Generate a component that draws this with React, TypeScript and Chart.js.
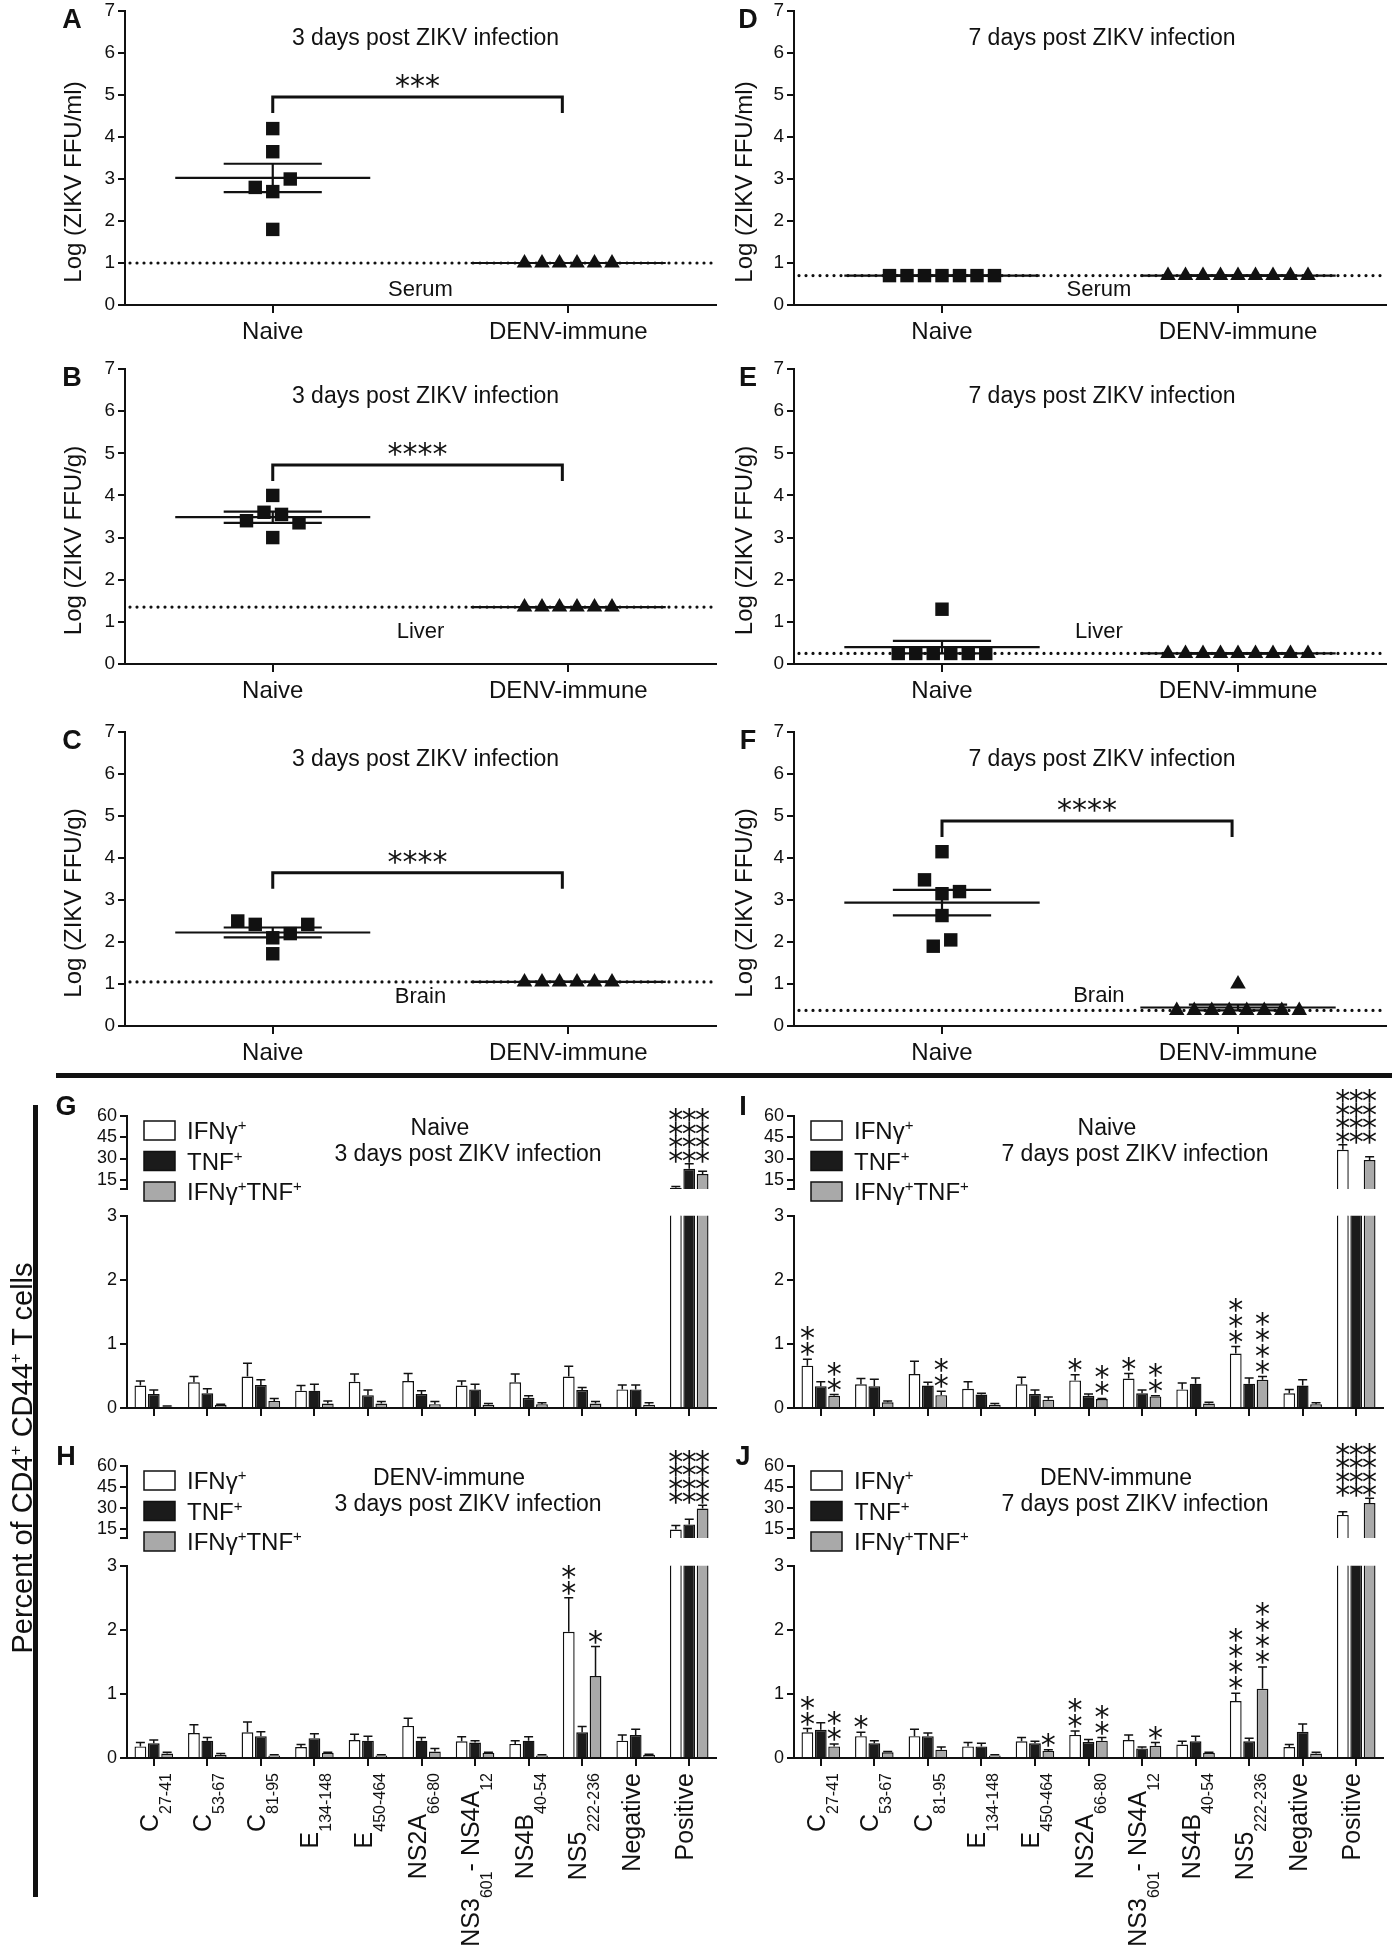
import React, { useEffect, useRef } from "react";
import { Chart, registerables } from "chart.js";

Chart.register(...registerables);

const SANS = '"Liberation Sans", Arial, Helvetica, sans-serif';
const STAR_FONT = '"DejaVu Sans", "Liberation Sans", sans-serif';
const INK = "#111111";
const BLACK_FILL = "#1b1b1b";
const GRAY_FILL = "#a9a9a9";

/* ================= Panels A–F : log ZIKV titres ================= */
const groupLabels = ["Naive", "DENV-immune"];
const logTicks = [0, 1, 2, 3, 4, 5, 6, 7];

const serumDay3Naive = [4.2, 3.65, 2.8, 2.7, 3.0, 1.8];
const serumDay3Denv = [1.0, 1.0, 1.0, 1.0, 1.0, 1.0];
const liverDay3Naive = [4.0, 3.4, 3.6, 3.55, 3.35, 3.0];
const liverDay3Denv = [1.35, 1.35, 1.35, 1.35, 1.35, 1.35];
const brainDay3Naive = [2.5, 2.42, 2.1, 2.2, 2.42, 1.72];
const brainDay3Denv = [1.05, 1.05, 1.05, 1.05, 1.05, 1.05];
const serumDay7Naive = [0.7, 0.7, 0.7, 0.7, 0.7, 0.7, 0.7];
const serumDay7Denv = [0.7, 0.7, 0.7, 0.7, 0.7, 0.7, 0.7, 0.7, 0.7];
const liverDay7Naive = [1.3, 0.25, 0.25, 0.25, 0.25, 0.25, 0.25];
const liverDay7Denv = [0.25, 0.25, 0.25, 0.25, 0.25, 0.25, 0.25, 0.25, 0.25];
const brainDay7Naive = [4.15, 3.48, 3.15, 3.2, 2.63, 1.9, 2.05];
const brainDay7Denv = [1.0, 0.37, 0.37, 0.37, 0.37, 0.37, 0.37, 0.37, 0.37];

const detectionLimits = [1.0, 1.35, 1.05, 0.7, 0.25, 0.37];
const significance = ["***", "****", "****", "", "", "****"];
const bracketLevels = [4.95, 4.72, 3.65, 0, 0, 4.88];
const tissueNames = ["Serum", "Liver", "Brain", "Serum", "Liver", "Brain"];
const tissueLabelLevels = [0.36, 0.76, 0.69, 0.36, 0.76, 0.71];
const scatterTitles = [
  "3 days post ZIKV infection",
  "3 days post ZIKV infection",
  "3 days post ZIKV infection",
  "7 days post ZIKV infection",
  "7 days post ZIKV infection",
  "7 days post ZIKV infection",
];
const scatterYTitles = [
  "Log (ZIKV FFU/ml)",
  "Log (ZIKV FFU/g)",
  "Log (ZIKV FFU/g)",
  "Log (ZIKV FFU/ml)",
  "Log (ZIKV FFU/g)",
  "Log (ZIKV FFU/g)",
];
const naiveSets = [serumDay3Naive, liverDay3Naive, brainDay3Naive, serumDay7Naive, liverDay7Naive, brainDay7Naive];
const denvSets = [serumDay3Denv, liverDay3Denv, brainDay3Denv, serumDay7Denv, liverDay7Denv, brainDay7Denv];

/* ================= Panels G–J : % of CD4+ CD44+ T cells ================= */
const peptideLabels = [
  "C_{27-41}",
  "C_{53-67}",
  "C_{81-95}",
  "E_{134-148}",
  "E_{450-464}",
  "NS2A_{66-80}",
  "NS3_{601}- NS4A_{12}",
  "NS4B_{40-54}",
  "NS5_{222-236}",
  "Negative",
  "Positive",
];
const legendLabels = ["IFNγ^{+}", "TNF^{+}", "IFNγ^{+}TNF^{+}"];
const upperTicks = [15, 30, 45, 60];
const lowerTicks = [0, 1, 2, 3];

// G: naive, day 3
const gIfn = [0.35, 0.4, 0.49, 0.27, 0.41, 0.42, 0.35, 0.4, 0.49, 0.29, 9.3];
const gIfnSem = [0.07, 0.09, 0.21, 0.08, 0.12, 0.12, 0.07, 0.13, 0.16, 0.07, 0.9];
const gTnf = [0.22, 0.23, 0.36, 0.27, 0.2, 0.22, 0.29, 0.16, 0.28, 0.29, 22.8];
const gTnfSem = [0.06, 0.07, 0.08, 0.1, 0.08, 0.05, 0.08, 0.03, 0.04, 0.07, 3.6];
const gDbl = [0.02, 0.05, 0.11, 0.07, 0.07, 0.06, 0.05, 0.06, 0.07, 0.05, 19.0];
const gDblSem = [0.01, 0.01, 0.04, 0.04, 0.03, 0.04, 0.02, 0.02, 0.03, 0.03, 2.0];
const gIfnStars = [0, 0, 0, 0, 0, 0, 0, 0, 0, 0, 4];
const gTnfStars = [0, 0, 0, 0, 0, 0, 0, 0, 0, 0, 4];
const gDblStars = [0, 0, 0, 0, 0, 0, 0, 0, 0, 0, 4];

// I: naive, day 7
const iIfn = [0.66, 0.37, 0.53, 0.3, 0.37, 0.43, 0.46, 0.29, 0.85, 0.23, 36.2];
const iIfnSem = [0.1, 0.09, 0.2, 0.11, 0.11, 0.09, 0.08, 0.1, 0.11, 0.06, 3.5];
const iTnf = [0.34, 0.34, 0.35, 0.21, 0.22, 0.19, 0.23, 0.38, 0.38, 0.35, 6.5];
const iTnfSem = [0.07, 0.11, 0.05, 0.02, 0.06, 0.03, 0.05, 0.09, 0.09, 0.09, 0.8];
const iDbl = [0.19, 0.09, 0.2, 0.05, 0.13, 0.14, 0.18, 0.07, 0.44, 0.06, 28.9];
const iDblSem = [0.02, 0.02, 0.06, 0.02, 0.04, 0.01, 0.01, 0.02, 0.05, 0.02, 2.3];
const iIfnStars = [2, 0, 0, 0, 0, 1, 1, 0, 3, 0, 4];
const iTnfStars = [0, 0, 0, 0, 0, 0, 0, 0, 0, 0, 4];
const iDblStars = [2, 0, 2, 0, 0, 2, 2, 0, 4, 0, 4];

// H: DENV-immune, day 3
const hIfn = [0.18, 0.39, 0.4, 0.17, 0.28, 0.5, 0.26, 0.22, 1.97, 0.27, 14.5];
const hIfnSem = [0.06, 0.13, 0.16, 0.04, 0.09, 0.12, 0.07, 0.05, 0.53, 0.09, 3.0];
const hTnf = [0.23, 0.27, 0.34, 0.31, 0.27, 0.27, 0.24, 0.27, 0.4, 0.36, 18.2];
const hTnfSem = [0.05, 0.05, 0.07, 0.07, 0.07, 0.05, 0.03, 0.06, 0.09, 0.09, 3.7];
const hDbl = [0.07, 0.05, 0.04, 0.08, 0.04, 0.1, 0.08, 0.04, 1.28, 0.05, 29.6];
const hDblSem = [0.02, 0.02, 0.01, 0.01, 0.01, 0.05, 0.01, 0.01, 0.46, 0.01, 2.4];
const hIfnStars = [0, 0, 0, 0, 0, 0, 0, 0, 2, 0, 4];
const hTnfStars = [0, 0, 0, 0, 0, 0, 0, 0, 0, 0, 4];
const hDblStars = [0, 0, 0, 0, 0, 0, 0, 0, 1, 0, 4];

// J: DENV-immune, day 7
const jIfn = [0.4, 0.34, 0.34, 0.18, 0.26, 0.36, 0.28, 0.21, 0.89, 0.17, 25.0];
const jIfnSem = [0.06, 0.06, 0.11, 0.06, 0.06, 0.06, 0.08, 0.05, 0.12, 0.04, 2.3];
const jTnf = [0.44, 0.23, 0.34, 0.18, 0.23, 0.25, 0.15, 0.26, 0.26, 0.41, 6.5];
const jTnfSem = [0.11, 0.04, 0.05, 0.05, 0.03, 0.04, 0.02, 0.08, 0.05, 0.12, 0.8];
const jDbl = [0.18, 0.09, 0.13, 0.04, 0.11, 0.27, 0.19, 0.08, 1.08, 0.07, 33.5];
const jDblSem = [0.04, 0.01, 0.04, 0.01, 0.02, 0.05, 0.05, 0.01, 0.34, 0.02, 3.5];
const jIfnStars = [2, 1, 0, 0, 0, 2, 0, 0, 4, 0, 4];
const jTnfStars = [0, 0, 0, 0, 0, 0, 0, 0, 0, 0, 4];
const jDblStars = [2, 0, 0, 0, 1, 2, 1, 0, 4, 0, 4];

/* ================= layout (positions, not data) ================= */
const SC_COLS = [
  { left: 125, right: 716, canvasX: 0, canvasW: 730, letterX: 72, titleDx: 5, yTitleGap: 51, tissueX: 0.5 },
  { left: 794, right: 1386, canvasX: 720, canvasW: 678, letterX: 748, titleDx: 12, yTitleGap: 49, tissueX: 0.53 },
];
const SC_ROWS = [
  { top: 10.7, bottom: 305 },
  { top: 369, bottom: 664 },
  { top: 732, bottom: 1026 },
];
const UPPER_MIN = 8.5;
const BAR_COLS = [
  { left: 127, right: 716, canvasX: 0, canvasW: 730, letterX: 66 },
  { left: 794, right: 1383, canvasX: 720, canvasW: 678, letterX: 743 },
];
const BAR_ROWS = [
  { upTop: 1116, upBottom: 1189, lowTop: 1214, lowBottom: 1408 },
  { upTop: 1466, upBottom: 1538, lowTop: 1564, lowBottom: 1758 },
];
const barPanels = [
  { letter: "G", line1: "Naive", line2: "3 days post ZIKV infection", col: 0, row: 0, labels: false,
    vals: [gIfn, gTnf, gDbl], sems: [gIfnSem, gTnfSem, gDblSem], stars: [gIfnStars, gTnfStars, gDblStars] },
  { letter: "I", line1: "Naive", line2: "7 days post ZIKV infection", col: 1, row: 0, labels: false,
    vals: [iIfn, iTnf, iDbl], sems: [iIfnSem, iTnfSem, iDblSem], stars: [iIfnStars, iTnfStars, iDblStars] },
  { letter: "H", line1: "DENV-immune", line2: "3 days post ZIKV infection", col: 0, row: 1, labels: true,
    vals: [hIfn, hTnf, hDbl], sems: [hIfnSem, hTnfSem, hDblSem], stars: [hIfnStars, hTnfStars, hDblStars] },
  { letter: "J", line1: "DENV-immune", line2: "7 days post ZIKV infection", col: 1, row: 1, labels: true,
    vals: [jIfn, jTnf, jDbl], sems: [jIfnSem, jTnfSem, jDblSem], stars: [jIfnStars, jTnfStars, jDblStars] },
];
const barFills = ["#ffffff", BLACK_FILL, GRAY_FILL];

/* ================= helpers ================= */
type Seg = { t: string; k: "n" | "sub" | "sup" };
function parseRich(s: string): Seg[] {
  const out: Seg[] = [];
  const re = /([_^])\{([^}]*)\}/g;
  let last = 0;
  let m: RegExpExecArray | null;
  while ((m = re.exec(s))) {
    if (m.index > last) out.push({ t: s.slice(last, m.index), k: "n" });
    out.push({ t: m[2], k: m[1] === "_" ? "sub" : "sup" });
    last = re.lastIndex;
  }
  if (last < s.length) out.push({ t: s.slice(last), k: "n" });
  return out;
}
function plain(s: string) {
  return parseRich(s).map((x) => x.t).join("");
}
function richWidth(ctx: CanvasRenderingContext2D, segs: Seg[], size: number, small: number) {
  let w = 0;
  for (const s of segs) {
    ctx.font = `${s.k === "n" ? size : small}px ${SANS}`;
    w += ctx.measureText(s.t).width;
  }
  return w;
}
function drawRich(ctx: CanvasRenderingContext2D, segs: Seg[], x: number, y: number, size: number, small: number, subDy: number, supDy: number) {
  let cx = x;
  ctx.textAlign = "left";
  ctx.textBaseline = "alphabetic";
  for (const s of segs) {
    ctx.font = `${s.k === "n" ? size : small}px ${SANS}`;
    const dy = s.k === "sub" ? subDy : s.k === "sup" ? -supDy : 0;
    ctx.fillText(s.t, cx, y + dy);
    cx += ctx.measureText(s.t).width;
  }
}
function drawStar(ctx: CanvasRenderingContext2D, x: number, y: number, size = 30) {
  ctx.font = `${size}px ${STAR_FONT}`;
  ctx.textAlign = "center";
  ctx.textBaseline = "alphabetic";
  ctx.fillStyle = INK;
  ctx.fillText("*", x, y + 0.57 * size);
}
function statsOf(vals: number[]) {
  const n = vals.length;
  const mean = vals.reduce((a, b) => a + b, 0) / n;
  const sd = Math.sqrt(vals.reduce((a, b) => a + (b - mean) * (b - mean), 0) / (n - 1));
  return { mean, sem: sd / Math.sqrt(n) };
}
// spreads points with (nearly) equal values side by side, like a dot plot
function swarm(vals: number[], pxPerUnit: number, markerPx: number) {
  const idx = vals.map((_, i) => i).sort((a, b) => vals[b] - vals[a]);
  const clusters: number[][] = [];
  let cur: number[] = [];
  for (const i of idx) {
    if (cur.length && (vals[cur[cur.length - 1]] - vals[i]) * pxPerUnit >= markerPx) {
      clusters.push(cur);
      cur = [];
    }
    cur.push(i);
  }
  if (cur.length) clusters.push(cur);
  const off = new Array(vals.length).fill(0);
  for (const c of clusters) {
    const s = [...c].sort((a, b) => a - b);
    s.forEach((i, k) => (off[i] = k - (s.length - 1) / 2));
  }
  return off;
}

const axisGrid = { drawOnChartArea: false, drawTicks: true, color: INK, lineWidth: 2 };
const axisBorder = { display: true, color: INK, width: 2 };

/* ================= scatter panels ================= */
function ScatterPanel({ idx }: { idx: number }) {
  const ref = useRef<HTMLCanvasElement>(null);
  const col = SC_COLS[idx < 3 ? 0 : 1];
  const row = SC_ROWS[idx % 3];
  const m = { l: col.left - col.canvasX, t: 40, r: col.canvasX + col.canvasW - col.right, b: 62 };
  const frame = { x: col.canvasX, y: row.top - m.t, w: col.canvasW, h: Math.round(m.t + (row.bottom - row.top) + m.b) };

  useEffect(() => {
    const naive = naiveSets[idx];
    const denv = denvSets[idx];
    const pxPerX = (col.right - col.left) / 2;
    const pxPerY = (row.bottom - row.top) / 7;
    const step = 17.5 / pxPerX;
    const offN = swarm(naive, pxPerY, 13);
    const offD = swarm(denv, pxPerY, 13);
    const letter = "ABCDEF"[idx];

    const decor = {
      id: "decor" + letter,
      beforeDatasetsDraw(chart: any) {
        const { ctx, chartArea: a, scales } = chart;
        const x = scales.x, y = scales.y;
        ctx.save();
        ctx.strokeStyle = INK;
        // detection limit (dotted)
        const ly = y.getPixelForValue(detectionLimits[idx]);
        ctx.lineWidth = 3.2;
        ctx.lineCap = "round";
        ctx.setLineDash([0, 7]);
        ctx.beginPath();
        ctx.moveTo(a.left + 5, ly);
        ctx.lineTo(a.right, ly);
        ctx.stroke();
        ctx.setLineDash([]);
        ctx.lineCap = "butt";
        // mean ± SEM
        ctx.lineWidth = 2.2;
        const groups: [number[], number][] = [[naive, 0], [denv, 1]];
        for (const [vals, cx] of groups) {
          const { mean, sem } = statsOf(vals);
          const h = (x0: number, x1: number, v: number) => {
            ctx.beginPath();
            ctx.moveTo(x.getPixelForValue(x0), y.getPixelForValue(v));
            ctx.lineTo(x.getPixelForValue(x1), y.getPixelForValue(v));
            ctx.stroke();
          };
          h(cx - 0.33, cx + 0.33, mean);
          h(cx - 0.166, cx + 0.166, mean + sem);
          h(cx - 0.166, cx + 0.166, mean - sem);
          ctx.beginPath();
          ctx.moveTo(x.getPixelForValue(cx), y.getPixelForValue(mean - sem));
          ctx.lineTo(x.getPixelForValue(cx), y.getPixelForValue(mean + sem));
          ctx.stroke();
        }
        ctx.restore();
      },
      afterDatasetsDraw(chart: any) {
        const { ctx, chartArea: a, scales } = chart;
        const x = scales.x, y = scales.y;
        ctx.save();
        ctx.fillStyle = INK;
        ctx.strokeStyle = INK;
        // significance bracket
        if (significance[idx]) {
          const by = y.getPixelForValue(bracketLevels[idx]);
          const x0 = x.getPixelForValue(0), x1 = x.getPixelForValue(0.98);
          ctx.lineWidth = 3;
          ctx.beginPath();
          ctx.moveTo(x0, by + 16);
          ctx.lineTo(x0, by);
          ctx.lineTo(x1, by);
          ctx.lineTo(x1, by + 16);
          ctx.stroke();
          ctx.font = `30px ${STAR_FONT}`;
          ctx.textAlign = "center";
          ctx.textBaseline = "alphabetic";
          ctx.fillText(significance[idx], x.getPixelForValue(0.49), by - 18 + 0.57 * 30);
        }
        // tissue name
        ctx.font = `22px ${SANS}`;
        ctx.textAlign = "center";
        ctx.textBaseline = "middle";
        ctx.fillText(tissueNames[idx], x.getPixelForValue(col.tissueX), y.getPixelForValue(tissueLabelLevels[idx]));
        // title
        ctx.font = `23px ${SANS}`;
        ctx.fillText(scatterTitles[idx], (a.left + a.right) / 2 + col.titleDx, a.top + 28);
        // panel letter
        ctx.font = `bold 27px ${SANS}`;
        ctx.fillText(letter, col.letterX - col.canvasX, a.top + 10);
        // y title
        ctx.save();
        ctx.translate(a.left - col.yTitleGap, (a.top + a.bottom) / 2 + 24);
        ctx.rotate(-Math.PI / 2);
        ctx.font = `24px ${SANS}`;
        ctx.fillText(scatterYTitles[idx], 0, 0);
        ctx.restore();
        ctx.restore();
      },
    };

    const chart = new Chart(ref.current!, {
      type: "scatter",
      data: {
        datasets: [
          {
            data: naive.map((v, i) => ({ x: 0 + offN[i] * step, y: v })),
            pointStyle: "rect",
            pointRadius: 9.5,
            pointHoverRadius: 9.5,
            backgroundColor: INK,
            borderColor: INK,
            borderWidth: 0,
          },
          {
            data: denv.map((v, i) => ({ x: 1 + offD[i] * step, y: v })),
            pointStyle: "triangle",
            pointRadius: 9,
            pointHoverRadius: 9,
            backgroundColor: INK,
            borderColor: INK,
            borderWidth: 0,
          },
        ],
      },
      options: {
        animation: false,
        responsive: false,
        maintainAspectRatio: false,
        devicePixelRatio: 1,
        events: [],
        layout: { padding: { top: m.t, right: m.r, left: 0, bottom: 0 } },
        plugins: { legend: { display: false }, tooltip: { enabled: false }, title: { display: false } },
        scales: {
          x: {
            type: "linear",
            min: -0.5,
            max: 1.5,
            afterBuildTicks: (s: any) => {
              s.ticks = [{ value: 0 }, { value: 1 }];
            },
            afterFit: (s: any) => {
              s.height = m.b;
            },
            ticks: {
              callback: (v: any) => groupLabels[v] ?? "",
              font: { family: SANS, size: 24 },
              color: INK,
              padding: 5,
              maxRotation: 0,
              autoSkip: false,
            },
            grid: { ...axisGrid, tickLength: 8 },
            border: axisBorder,
          },
          y: {
            min: 0,
            max: 7,
            afterBuildTicks: (s: any) => {
              s.ticks = logTicks.map((v) => ({ value: v }));
            },
            afterFit: (s: any) => {
              s.width = m.l;
            },
            ticks: { font: { family: SANS, size: 19 }, color: INK, padding: 3, autoSkip: false },
            grid: { ...axisGrid, tickLength: 7 },
            border: axisBorder,
          },
        },
      } as any,
      plugins: [decor],
    });
    return () => chart.destroy();
  }, []);

  return (
    <canvas
      ref={ref}
      width={frame.w}
      height={frame.h}
      style={{ position: "absolute", left: frame.x, top: frame.y, width: frame.w, height: frame.h }}
    />
  );
}

/* ================= bar panels ================= */
function BarPart({ p, part }: { p: (typeof barPanels)[number]; part: "upper" | "lower" }) {
  const ref = useRef<HTMLCanvasElement>(null);
  const col = BAR_COLS[p.col];
  const row = BAR_ROWS[p.row];
  const isUpper = part === "upper";
  const top = isUpper ? row.upTop : row.lowTop;
  const bottom = isUpper ? row.upBottom : row.lowBottom;
  const m = {
    l: col.left - col.canvasX,
    t: isUpper ? 45 : 12,
    r: col.canvasX + col.canvasW - col.right,
    b: isUpper ? 40 : p.labels ? 200 : 30,
  };
  const frame = { x: col.canvasX, y: top - m.t, w: col.canvasW, h: Math.round(m.t + (bottom - top) + m.b) };

  useEffect(() => {
    const yMin = isUpper ? UPPER_MIN : 0;
    const yMax = isUpper ? 60 : 3;
    const tickVals = isUpper ? [UPPER_MIN, ...upperTicks] : lowerTicks;

    const decor = {
      id: "bars" + p.letter + part,
      afterDatasetsDraw(chart: any) {
        const { ctx, scales } = chart;
        const y = scales.y;
        ctx.save();
        ctx.strokeStyle = INK;
        ctx.lineWidth = 1.5;
        // error bars (mean + SEM, upward)
        p.vals.forEach((vals, di) => {
          const meta = chart.getDatasetMeta(di);
          vals.forEach((v, i) => {
            if (v < yMin || v > yMax) return;
            const t = v + p.sems[di][i];
            const py = y.getPixelForValue(v);
            const pt = y.getPixelForValue(Math.min(t, yMax));
            const bx = meta.data[i].x;
            ctx.beginPath();
            ctx.moveTo(bx, py);
            ctx.lineTo(bx, pt);
            ctx.moveTo(bx - 4.5, pt);
            ctx.lineTo(bx + 4.5, pt);
            ctx.stroke();
          });
        });
        // significance stars
        peptideLabels.forEach((_, i) => {
          const groupVals = p.vals.map((vals) => vals[i]);
          const over = groupVals.some((v) => v > yMax);
          if (!isUpper) {
            if (over) return;
            p.vals.forEach((vals, di) => {
              const n = p.stars[di][i];
              if (!n) return;
              const bx = chart.getDatasetMeta(di).data[i].x;
              const pt = y.getPixelForValue(vals[i] + p.sems[di][i]);
              for (let k = 0; k < n; k++) drawStar(ctx, bx, pt - 12 - k * 16);
            });
          } else {
            const visible = p.vals.map((vals, di) => ({ v: vals[i], di })).filter((o) => o.v >= yMin);
            if (!visible.length) return;
            const base =
              Math.min(...visible.map((o) => y.getPixelForValue(o.v + p.sems[o.di][i]))) - 10;
            p.vals.forEach((_v, di) => {
              const n = p.stars[di][i];
              const bx = chart.getDatasetMeta(di).data[i].x;
              for (let k = 0; k < n; k++) drawStar(ctx, bx, base - k * 13.5);
            });
          }
        });
        ctx.restore();
      },
      afterDraw(chart: any) {
        const { ctx, chartArea: a, scales } = chart;
        ctx.save();
        ctx.fillStyle = INK;
        if (isUpper) {
          // legend
          legendLabels.forEach((lab, k) => {
            const bx = a.left + 17, by = a.top + 5 + k * 30.5;
            ctx.fillStyle = barFills[k];
            ctx.fillRect(bx, by, 31, 19);
            ctx.strokeStyle = INK;
            ctx.lineWidth = 1.5;
            ctx.strokeRect(bx, by, 31, 19);
            ctx.fillStyle = INK;
            drawRich(ctx, parseRich(lab), bx + 43, by + 9.5 + 8.5, 24, 15, 0, 9);
          });
          // titles
          ctx.textAlign = "center";
          ctx.textBaseline = "middle";
          ctx.font = `23px ${SANS}`;
          ctx.fillText(p.line1, a.left + (p.line1 === "Naive" ? 313 : 322), a.top + 12.5);
          ctx.fillText(p.line2, a.left + 341, a.top + 39);
          // panel letter
          ctx.font = `bold 27px ${SANS}`;
          ctx.fillText(p.letter, col.letterX - col.canvasX, a.top - 8);
        } else if (p.labels) {
          const x = scales.x;
          peptideLabels.forEach((lab, i) => {
            const segs = parseRich(lab);
            const w = richWidth(ctx, segs, 25, 16);
            ctx.save();
            ctx.translate(x.getPixelForValue(i), a.bottom + 15);
            ctx.rotate(-Math.PI / 2);
            drawRich(ctx, segs, -w, 4, 25, 16, 13, 0);
            ctx.restore();
          });
        }
        ctx.restore();
      },
    };

    const chart = new Chart(ref.current!, {
      type: "bar",
      data: {
        labels: peptideLabels.map(plain),
        datasets: p.vals.map((vals, k) => ({
          label: plain(legendLabels[k]),
          data: vals,
          backgroundColor: barFills[k],
          borderColor: INK,
          borderWidth: 1.4,
          categoryPercentage: 0.75,
          barPercentage: 0.88,
          clip: 0,
        })),
      },
      options: {
        animation: false,
        responsive: false,
        maintainAspectRatio: false,
        devicePixelRatio: 1,
        events: [],
        layout: { padding: { top: m.t, right: m.r, left: 0, bottom: isUpper ? m.b : 0 } },
        plugins: { legend: { display: false }, tooltip: { enabled: false }, title: { display: false } },
        scales: {
          x: {
            type: "category",
            display: !isUpper,
            offset: true,
            afterFit: (s: any) => {
              s.height = isUpper ? 0 : m.b;
            },
            ticks: { display: false },
            grid: { ...axisGrid, offset: false, tickLength: 8 },
            border: axisBorder,
          },
          y: {
            min: yMin,
            max: yMax,
            afterBuildTicks: (s: any) => {
              s.ticks = tickVals.map((v) => ({ value: v }));
            },
            afterFit: (s: any) => {
              s.width = m.l;
            },
            ticks: {
              callback: (v: any) => (isUpper && v === UPPER_MIN ? "" : String(v)),
              font: { family: SANS, size: 18 },
              color: INK,
              padding: 3,
              autoSkip: false,
            },
            grid: { ...axisGrid, tickLength: 7 },
            border: axisBorder,
          },
        },
      } as any,
      plugins: [decor],
    });
    return () => chart.destroy();
  }, []);

  return (
    <canvas
      ref={ref}
      width={frame.w}
      height={frame.h}
      style={{ position: "absolute", left: frame.x, top: frame.y, width: frame.w, height: frame.h }}
    />
  );
}

export default function App() {
  return (
    <div
      style={{
        position: "absolute",
        left: 0,
        top: 0,
        width: 1398,
        height: 1950,
        background: "#ffffff",
        overflow: "hidden",
        fontFamily: SANS,
        color: INK,
      }}
    >
      {[0, 1, 2, 3, 4, 5].map((i) => (
        <ScatterPanel key={"s" + i} idx={i} />
      ))}
      {barPanels.map((p) => (
        <React.Fragment key={p.letter}>
          <BarPart p={p} part="lower" />
          <BarPart p={p} part="upper" />
        </React.Fragment>
      ))}
      <div style={{ position: "absolute", left: 56, top: 1073, width: 1336, height: 5, background: INK }} />
      <div style={{ position: "absolute", left: 33, top: 1105, width: 5, height: 792, background: INK }} />
      <div
        style={{
          position: "absolute",
          left: 16 - 260,
          top: 1458 - 20,
          width: 520,
          height: 40,
          lineHeight: "40px",
          textAlign: "center",
          fontSize: 29,
          fontFamily: SANS,
          transform: "rotate(-90deg)",
          whiteSpace: "nowrap",
        }}
      >
        Percent of CD4<sup style={{ fontSize: 17 }}>+</sup> CD44<sup style={{ fontSize: 17 }}>+</sup> T cells
      </div>
    </div>
  );
}
